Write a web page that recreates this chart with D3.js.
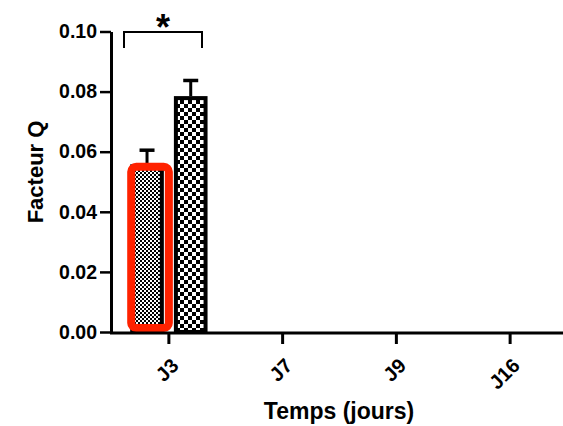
<!DOCTYPE html>
<html>
<head>
<meta charset="utf-8">
<script src="https://cdn.jsdelivr.net/npm/d3@7"></script>
<style>
  html, body { margin: 0; padding: 0; background: #fff; }
  svg { display: block; font-family: "Liberation Sans", Arial, sans-serif; }
</style>
</head>
<body>
<svg id="chart" width="563" height="426"></svg>
<script>
// Time points (days) and the two measured groups
const categories = ["J3", "J7", "J9", "J16"];
const groups = ["fine", "coarse"];
const valuesFine   = [0.0558, null, null, null];
const errorsFine   = [0.0047, null, null, null];
const valuesCoarse = [0.0785, null, null, null];
const errorsCoarse = [0.0052, null, null, null];
const yTicks = [0, 0.02, 0.04, 0.06, 0.08, 0.10];

const svg = d3.select("#chart");

const x = d3.scaleBand().domain(categories).range([112, 567]);
const y = d3.scaleLinear().domain([0, 0.1]).range([332, 31.5]);
const xSub = d3.scaleBand().domain(groups)
  .range([x.bandwidth() * 0.16, x.bandwidth() * 0.84]).paddingInner(0.23);

// Checkerboard fills
const defs = svg.append("defs");
function checker(id, cell) {
  const p = defs.append("pattern").attr("id", id)
    .attr("patternUnits", "userSpaceOnUse")
    .attr("width", cell * 2).attr("height", cell * 2);
  p.append("rect").attr("width", cell * 2).attr("height", cell * 2).attr("fill", "#fff");
  p.append("rect").attr("width", cell).attr("height", cell).attr("fill", "#000");
  p.append("rect").attr("x", cell).attr("y", cell).attr("width", cell).attr("height", cell).attr("fill", "#000");
}
checker("chkFine", 2);
checker("chkCoarse", 4);

const rows = categories.map((c, i) => ({
  cat: c,
  bars: [
    { g: "fine", v: valuesFine[i], e: errorsFine[i], fill: "url(#chkFine)" },
    { g: "coarse", v: valuesCoarse[i], e: errorsCoarse[i], fill: "url(#chkCoarse)" }
  ].filter(b => b.v != null)
}));

const groupSel = svg.append("g").selectAll("g").data(rows).join("g")
  .attr("transform", d => `translate(${x(d.cat)},0)`);

// error bars (drawn first so the bar outline covers the stem base)
groupSel.selectAll("g.err").data(d => d.bars).join("g").attr("class", "err")
  .each(function(b) {
    const g = d3.select(this);
    const cx = xSub(b.g) + xSub.bandwidth() / 2;
    g.append("line").attr("x1", cx).attr("x2", cx)
      .attr("y1", y(b.v)).attr("y2", y(b.v + b.e))
      .attr("stroke", "#000").attr("stroke-width", 3);
    g.append("line").attr("x1", cx - 7.5).attr("x2", cx + 7.5)
      .attr("y1", y(b.v + b.e)).attr("y2", y(b.v + b.e))
      .attr("stroke", "#000").attr("stroke-width", 3.5);
  });

groupSel.selectAll("rect.bar").data(d => d.bars).join("rect").attr("class", "bar")
  .attr("x", b => xSub(b.g) + 2)
  .attr("y", b => y(b.v) + 2)
  .attr("width", xSub.bandwidth() - 4)
  .attr("height", b => y(0) - y(b.v) - 2)
  .attr("fill", b => b.fill)
  .attr("stroke", "#000").attr("stroke-width", 4);

// red highlight around the first bar at J3
const fineJ3 = valuesFine[0];
svg.append("rect")
  .attr("x", x("J3") + xSub("fine") + 1)
  .attr("y", y(fineJ3) + 2.5)
  .attr("width", xSub.bandwidth() + 4)
  .attr("height", y(0) - y(fineJ3) - 6.5)
  .attr("rx", 5).attr("ry", 5)
  .attr("fill", "none").attr("stroke", "#ff2200").attr("stroke-width", 8);

// significance bracket
const bx0 = x("J3") + 12, bx1 = x("J3") + 90, by = y(0.1) + 0.5;
svg.append("path")
  .attr("d", `M${bx0},${by + 16}V${by}H${bx1}V${by + 16}`)
  .attr("fill", "none").attr("stroke", "#000").attr("stroke-width", 2);
svg.append("text").attr("x", (bx0 + bx1) / 2).attr("y", 40)
  .attr("text-anchor", "middle").attr("font-size", 36).attr("font-weight", "bold")
  .text("*");

// axes
const yAxis = svg.append("g").attr("transform", "translate(111,0)")
  .call(d3.axisLeft(y).tickValues(yTicks).tickFormat(d3.format(".2f"))
    .tickSize(11).tickSizeOuter(0).tickPadding(3));
yAxis.select(".domain").attr("stroke-width", 3);
yAxis.selectAll(".tick line").attr("stroke-width", 2.5);
yAxis.selectAll(".tick text").attr("font-size", 19.5).attr("font-weight", "bold")
  .attr("fill", "#000").attr("font-family", "Liberation Sans, Arial, sans-serif");

const xAxis = svg.append("g").attr("transform", "translate(0,333)")
  .call(d3.axisBottom(x).tickSize(11).tickSizeOuter(0));
xAxis.select(".domain").attr("stroke-width", 3)
  .attr("d", `M${110},0H${567}`);
xAxis.selectAll(".tick line").attr("stroke-width", 3);
xAxis.selectAll(".tick text")
  .attr("font-size", 20).attr("font-weight", "bold").attr("fill", "#000")
  .attr("font-family", "Liberation Sans, Arial, sans-serif")
  .attr("text-anchor", "end")
  .attr("x", 0).attr("y", 0).attr("dy", "0.35em")
  .attr("transform", "translate(6,29) rotate(-45)");

// axis titles
svg.append("text")
  .attr("transform", "translate(43,172) rotate(-90)")
  .attr("text-anchor", "middle").attr("font-size", 22).attr("font-weight", "bold")
  .text("Facteur Q");
svg.append("text")
  .attr("x", 339).attr("y", 419)
  .attr("text-anchor", "middle").attr("font-size", 23).attr("font-weight", "bold")
  .text("Temps (jours)");
</script>
</body>
</html>
